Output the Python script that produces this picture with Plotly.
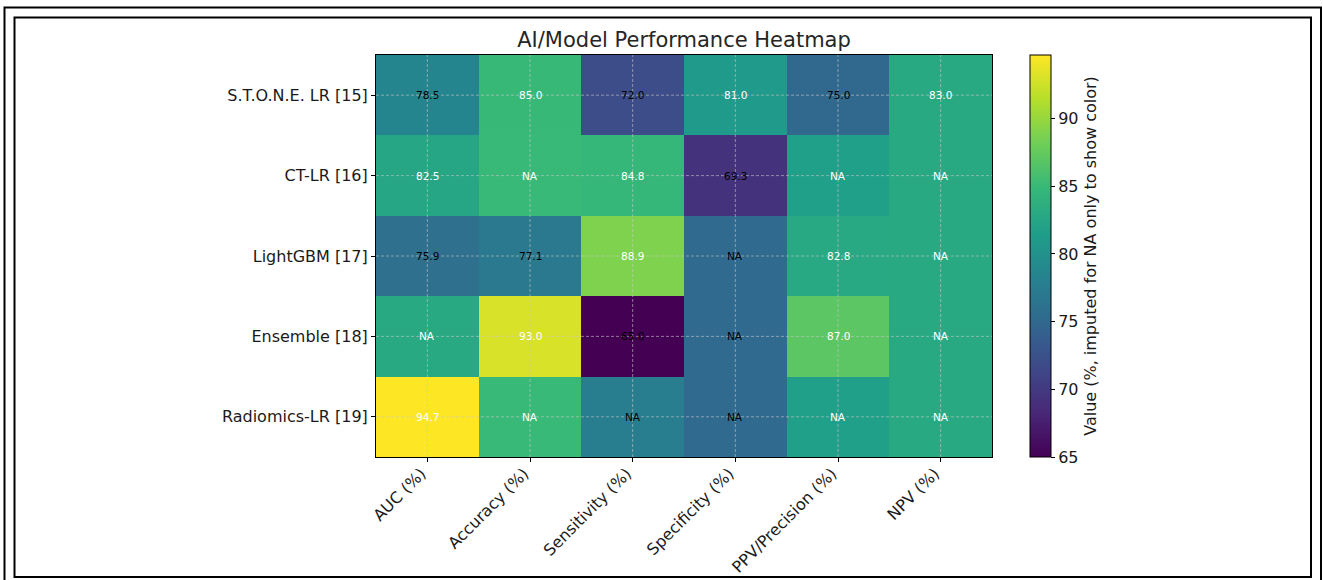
import plotly.graph_objects as go

# Models (rows) and metrics (columns)
models = ["S.T.O.N.E. LR [15]", "CT-LR [16]", "LightGBM [17]", "Ensemble [18]", "Radiomics-LR [19]"]
metrics = ["AUC (%)", "Accuracy (%)", "Sensitivity (%)", "Specificity (%)", "PPV/Precision (%)", "NPV (%)"]

# Reported values per metric, one entry per model (None = not reported)
auc = [78.5, 82.5, 75.9, None, 94.7]
accuracy = [85.0, None, 77.1, 93.0, None]
sensitivity = [72.0, 84.8, 88.9, 65.0, None]
specificity = [81.0, 69.3, None, None, None]
ppv_precision = [75.0, None, 82.8, 87.0, None]
npv = [83.0, None, None, None, None]

columns = [auc, accuracy, sensitivity, specificity, ppv_precision, npv]

# Missing cells get the column mean, used for colouring only
filled_cols = []
for col in columns:
    obs = [v for v in col if v is not None]
    mean = sum(obs) / len(obs)
    filled_cols.append([v if v is not None else mean for v in col])

z = [[filled_cols[j][i] for j in range(len(metrics))] for i in range(len(models))]
observed = [v for col in columns for v in col if v is not None]
zmin, zmax = min(observed), max(observed)
threshold = (zmin + zmax) / 2

FONT = "DejaVu Sans"
TICK_SIZE = 16
W, H = 1323, 580
L, R, T, B = 376, 992, 55, 457  # plot area edges in pixels

fig = go.Figure(
    go.Heatmap(
        z=z,
        x=metrics,
        y=models,
        colorscale="Viridis",
        zmin=zmin,
        zmax=zmax,
        hoverongaps=False,
        colorbar=dict(
            x=(1030 - L) / (R - L),
            xanchor="left",
            xpad=0,
            y=0,
            yanchor="bottom",
            ypad=0,
            len=1,
            lenmode="fraction",
            thickness=21,
            thicknessmode="pixels",
            outlinecolor="black",
            outlinewidth=1,
            tickmode="array",
            tickvals=[65, 70, 75, 80, 85, 90],
            ticks="outside",
            ticklen=4,
            tickcolor="black",
            tickfont=dict(family=FONT, size=TICK_SIZE, color="#1a1a1a"),
            title=dict(
                text="Value (%, imputed for NA only to show color)",
                side="right",
                font=dict(family=FONT, size=TICK_SIZE, color="#1a1a1a"),
            ),
        ),
    )
)

# Cell labels: value text or NA, dark on low cells, white on high cells
annotations = []
for i, m in enumerate(models):
    for j, k in enumerate(metrics):
        raw = columns[j][i]
        label = f"{raw:.1f}" if raw is not None else "NA"
        color = "black" if z[i][j] < threshold else "white"
        annotations.append(dict(
            x=k, y=m, xref="x", yref="y", text=label, showarrow=False,
            font=dict(family=FONT, size=10.5, color=color),
        ))

# Dashed grid drawn on top of the cells
shapes = []
grid_line = dict(color="rgba(200,200,200,0.75)", width=0.8, dash="3px,2px")
for k in metrics:
    shapes.append(dict(type="line", xref="x", yref="paper", x0=k, x1=k, y0=0, y1=1,
                       line=grid_line, layer="above"))
for m in models:
    shapes.append(dict(type="line", xref="paper", yref="y", x0=0, x1=1, y0=m, y1=m,
                       line=grid_line, layer="above"))


def px_x(p):
    return (p - L) / (R - L)


def px_y(p):
    return (B - p) / (B - T)


# Double frame around the figure
shapes.append(dict(type="rect", xref="paper", yref="paper",
                   x0=px_x(4.5), x1=px_x(1321), y0=px_y(590), y1=px_y(7.5),
                   line=dict(color="black", width=2), layer="above"))
shapes.append(dict(type="rect", xref="paper", yref="paper",
                   x0=px_x(14.5), x1=px_x(1311), y0=px_y(577), y1=px_y(17.5),
                   line=dict(color="black", width=2), layer="above"))

fig.update_layout(
    width=W,
    height=H,
    margin=dict(l=L, r=W - R, t=T, b=H - B, pad=0, autoexpand=False),
    paper_bgcolor="white",
    plot_bgcolor="white",
    font=dict(family=FONT, color="#1a1a1a"),
    title=dict(
        text="AI/Model Performance Heatmap",
        x=(L + R) / 2 / W,
        xanchor="center",
        y=1 - 40 / H,
        yanchor="middle",
        font=dict(family=FONT, size=21, color="#262626"),
    ),
    annotations=annotations,
    shapes=shapes,
)

fig.update_xaxes(
    automargin=False,
    tickangle=-45,
    ticklabelshift=-6,
    ticklabelstandoff=-4,
    ticks="outside",
    ticklen=4,
    tickcolor="black",
    showgrid=False,
    showline=True,
    linecolor="black",
    linewidth=1,
    mirror=True,
    tickfont=dict(family=FONT, size=TICK_SIZE, color="#1a1a1a"),
)
fig.update_yaxes(
    automargin=False,
    autorange="reversed",
    ticks="outside",
    ticklen=4,
    tickcolor="black",
    showgrid=False,
    showline=True,
    linecolor="black",
    linewidth=1,
    mirror=True,
    tickfont=dict(family=FONT, size=TICK_SIZE, color="#1a1a1a"),
)

fig.write_html("out.html")
